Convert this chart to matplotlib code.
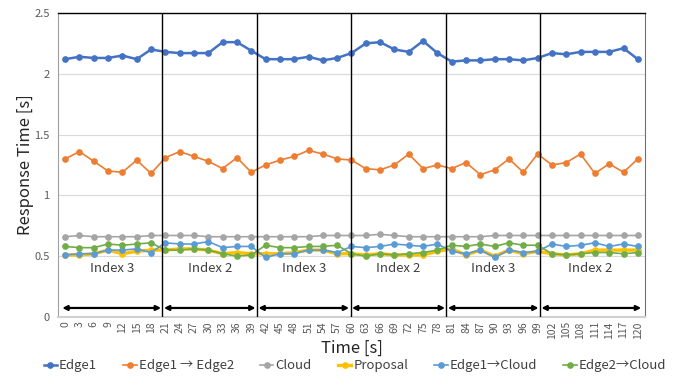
import matplotlib
matplotlib.use('Agg')
import matplotlib.pyplot as plt
import numpy as np

plt.rcParams['font.family'] = ['Noto Sans CJK JP', 'DejaVu Sans']

# time axis (s)
time_s = list(range(0, 121, 3))

edge1 = [2.12, 2.14, 2.13, 2.13, 2.15, 2.12, 2.20, 2.18, 2.17, 2.17, 2.17,
         2.26, 2.26, 2.19, 2.12, 2.12, 2.12, 2.14, 2.11, 2.13, 2.17,
         2.25, 2.26, 2.20, 2.18, 2.27, 2.17, 2.10, 2.11, 2.11, 2.12,
         2.12, 2.11, 2.13, 2.17, 2.16, 2.18, 2.18, 2.18, 2.21, 2.12]
edge1_edge2 = [1.30, 1.36, 1.28, 1.20, 1.19, 1.29, 1.18, 1.31, 1.36, 1.32, 1.28,
               1.22, 1.31, 1.19, 1.25, 1.29, 1.32, 1.37, 1.34, 1.30, 1.29,
               1.22, 1.21, 1.25, 1.34, 1.22, 1.25, 1.22, 1.27, 1.17, 1.21,
               1.30, 1.19, 1.34, 1.25, 1.27, 1.34, 1.18, 1.26, 1.19, 1.30]
cloud = [0.66, 0.67, 0.66, 0.66, 0.66, 0.66, 0.67, 0.67, 0.67, 0.67, 0.66,
         0.66, 0.66, 0.66, 0.66, 0.66, 0.66, 0.66, 0.67, 0.67, 0.67,
         0.67, 0.68, 0.67, 0.66, 0.66, 0.66, 0.66, 0.66, 0.66, 0.67,
         0.67, 0.67, 0.67, 0.67, 0.67, 0.67, 0.67, 0.67, 0.67, 0.67]
proposal = [0.51, 0.51, 0.52, 0.55, 0.52, 0.54, 0.55, 0.55, 0.56, 0.56, 0.55,
            0.52, 0.53, 0.52, 0.52, 0.52, 0.53, 0.55, 0.55, 0.52, 0.52,
            0.51, 0.52, 0.51, 0.51, 0.51, 0.54, 0.56, 0.51, 0.55, 0.50,
            0.55, 0.52, 0.54, 0.52, 0.51, 0.52, 0.55, 0.55, 0.55, 0.55]
edge1_cloud = [0.51, 0.52, 0.52, 0.55, 0.55, 0.56, 0.53, 0.61, 0.60, 0.60, 0.62,
               0.57, 0.58, 0.58, 0.49, 0.52, 0.52, 0.55, 0.55, 0.53, 0.58,
               0.57, 0.58, 0.60, 0.59, 0.58, 0.60, 0.54, 0.52, 0.55, 0.49,
               0.55, 0.53, 0.54, 0.60, 0.58, 0.59, 0.61, 0.58, 0.60, 0.58]
edge2_cloud = [0.58, 0.57, 0.57, 0.60, 0.59, 0.60, 0.61, 0.55, 0.55, 0.56, 0.55,
               0.52, 0.50, 0.51, 0.59, 0.57, 0.57, 0.58, 0.58, 0.59, 0.52,
               0.50, 0.52, 0.51, 0.52, 0.53, 0.55, 0.59, 0.58, 0.60, 0.58,
               0.61, 0.59, 0.59, 0.52, 0.51, 0.52, 0.53, 0.53, 0.52, 0.53]

series = [
    ("Edge1", edge1, "#4472C4", 1.8),
    ("Edge1 \u2192 Edge2", edge1_edge2, "#ED7D31", 1.2),
    ("Cloud", cloud, "#A5A5A5", 1.2),
    ("Proposal", proposal, "#FFC000", 2.4),
    ("Edge1\u2192Cloud", edge1_cloud, "#5B9BD5", 1.2),
    ("Edge2\u2192Cloud", edge2_cloud, "#70AD47", 1.2),
]

# segment boundaries and their labels
boundaries = [20.4, 40.2, 59.8, 79.9, 99.5]
segment_labels = ["Index 3", "Index 2", "Index 3", "Index 2", "Index 3", "Index 2"]

fig = plt.figure(figsize=(6.96, 3.76), dpi=100)
ax = fig.add_axes([0.0833, 0.157, 0.8434, 0.8085])

for name, vals, col, lw in series:
    ax.plot(time_s, vals, color=col, lw=lw, marker='o', markersize=3.8,
            label=name, zorder=3)

ax.set_xlim(-1.5, 121.5)
ax.set_ylim(0, 2.5)
ax.set_yticks([0, 0.5, 1, 1.5, 2, 2.5])
ax.set_yticklabels(["0", "0.5", "1", "1.5", "2", "2.5"])
ax.set_xticks(time_s)
ax.set_xticklabels([str(t) for t in time_s], rotation=90)
ax.tick_params(axis='x', labelsize=7.5, length=0, pad=3, colors='#595959')
ax.tick_params(axis='y', labelsize=8, length=0, pad=6, colors='#595959')
ax.grid(axis='y', color='#d9d9d9', lw=0.8, zorder=0)
ax.set_axisbelow(True)

ax.spines['top'].set_color('black')
ax.spines['top'].set_linewidth(1.0)
ax.spines['left'].set_color('#a0a0a0')
ax.spines['right'].set_color('#707070')
ax.spines['bottom'].set_color('#d0d0d0')
ax.spines['bottom'].set_linewidth(1.5)

for b in boundaries:
    ax.axvline(b, color='black', lw=1.0, zorder=4)

edges = [-0.6] + boundaries + [120.7]
for i, lab in enumerate(segment_labels):
    x0 = edges[i] + (0.3 if i > 0 else 0)
    x1 = edges[i + 1] - (0.3 if i < len(segment_labels) - 1 else 0)
    ax.annotate('', xy=(x1, 0.074), xytext=(x0, 0.074),
                arrowprops=dict(arrowstyle='<|-|>', color='black', lw=1.6,
                                mutation_scale=7, shrinkA=0, shrinkB=0),
                zorder=5)
    ax.text((edges[i] + edges[i + 1]) / 2, 0.395, lab, ha='center', va='center',
            fontsize=9.5, color='#404040')

ax.set_ylabel("Response Time [s]", fontsize=12, color='#262626', labelpad=0)
ax.set_xlabel("Time [s]", fontsize=12, color='#262626', labelpad=1)

fig.legend(loc='center', bbox_to_anchor=(0.51, 0.027), ncol=6, frameon=False,
           fontsize=9.5, handlelength=1.0, columnspacing=2.0, handletextpad=0.15,
           labelcolor='#404040')

fig.savefig('out.png', dpi=100)
